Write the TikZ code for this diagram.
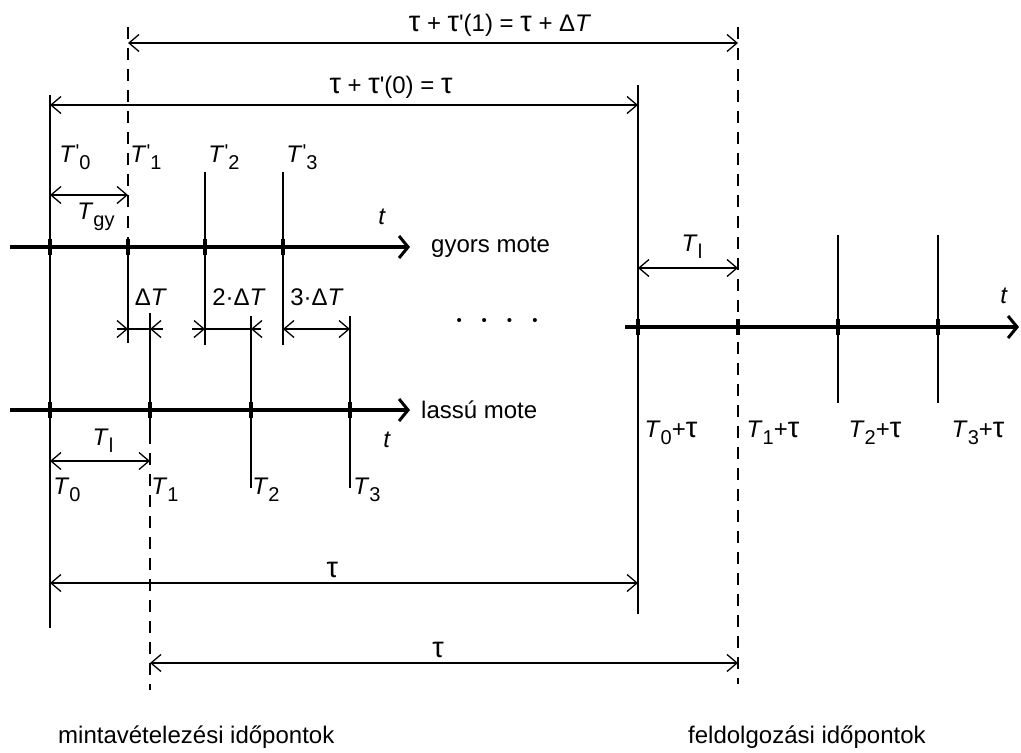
\documentclass[tikz,border=0pt]{standalone}
\usepackage{fontspec}
\setmainfont{Liberation Sans}
\usetikzlibrary{arrows.meta,positioning}
\newcommand{\Tix}[1]{\textit{T}\raisebox{-.55ex}{\fontsize{20}{20}\selectfont#1}}
\newcommand{\Tpr}[1]{\textit{T}\raisebox{.3ex}{\fontsize{20}{20}\selectfont\textquotesingle}\raisebox{-.55ex}{\fontsize{20}{20}\selectfont#1}}
\newcommand{\tp}{\textquotesingle}
\newcommand{\tu}{{\fontsize{29}{29}\selectfont τ}}

\begin{document}
\begin{tikzpicture}[x=1pt,y=-1pt,font=\fontsize{24}{28}\selectfont,
   axis/.style={line width=3.4pt,-{Straight Barb[length=9pt,width=22pt,line width=3pt]}},
   tickm/.style={line width=3.6pt},
   dim/.style={line width=1.3pt,{Straight Barb[length=10pt,width=17pt]}-{Straight Barb[length=10pt,width=17pt]}},
   tip/.style={line width=1.3pt,-{Straight Barb[length=10pt,width=17pt]}},
   vline/.style={line width=1.6pt},
   dsh/.style={line width=1.6pt,dash pattern=on 12pt off 9pt},
   lbl/.style={inner sep=1pt}]
  \useasboundingbox[fill=white] (0,0) rectangle (1021,753);
  % tick points on the three time axes
  \coordinate (g0) at (50,247);  \coordinate (g1) at (128,247);
  \coordinate (g2) at (205,247); \coordinate (g3) at (283,247);
  \coordinate (l0) at (50,410);  \coordinate (l1) at (150,410);
  \coordinate (l2) at (251,410); \coordinate (l3) at (350,410);
  \coordinate (f0) at (638,327); \coordinate (f1) at (738,327);
  \coordinate (f2) at (838,327); \coordinate (f3) at (938,327);
  % axes
  \draw[axis] (10,247) coordinate (gs) -- (410,247) coordinate (ge);
  \draw[axis] (10,410) coordinate (ls) -- (410,410) coordinate (le);
  \draw[axis] (625,327) coordinate (fs) -- (1019,327) coordinate (fe);
  \foreach \p in {g0,g1,g2,g3,l0,l1,l2,l3,f0,f1,f2,f3}
    \draw[tickm] ([yshift=8pt]\p) -- ([yshift=-8pt]\p);
  % vertical markers
  \draw[vline] (g0 |- 0,95) -- (g0 |- 0,628);
  \draw[dsh] (g1 |- 0,27) -- (g1);
  \draw[vline] (g1) -- (g1 |- 0,343);
  \draw[vline] (g2 |- 0,172) -- (g2 |- 0,345);
  \draw[vline] (g3 |- 0,172) -- (g3 |- 0,345);
  \draw[vline] (l1 |- 0,313) -- (l1 |- 0,432);
  \draw[dsh] (l1 |- 0,432) -- (l1 |- 0,690);
  \draw[vline] (l2 |- 0,316) -- (l2 |- 0,488);
  \draw[vline] (l3 |- 0,316) -- (l3 |- 0,488);
  \draw[vline] (f0 |- 0,85) -- (f0 |- 0,614);
  \draw[dsh] (f1 |- 0,27) -- (f1 |- 0,684);
  \draw[vline] (f2 |- 0,235) -- (f2 |- 0,403);
  \draw[vline] (f3 |- 0,235) -- (f3 |- 0,403);
  % dimensions
  \draw[dim] (g1 |- 0,43) -- node[lbl,pos=0.61,above=5pt] (top) {\tu\ + \tu\tp(1) = \tu\ + Δ\textit{T}} (f1 |- 0,43);
  \draw[dim] (g0 |- 0,105) -- node[lbl,pos=0.58,above=5pt] (mid) {\tu\ + \tu\tp(0) = \tu} (f0 |- 0,105);
  \draw[dim] (g0 |- 0,195) -- (g1 |- 0,195);
  \draw[dim] (l0 |- 0,461) -- (l1 |- 0,461);
  \draw[dim] (f0 |- 0,268) -- (f1 |- 0,268);
  \draw[dim] (g0 |- 0,583) -- node[lbl,pos=0.48,above=4pt] (tau1) {\tu} (f0 |- 0,583);
  \draw[dim] (l1 |- 0,663) -- node[lbl,pos=0.49,above=4pt] (tau2) {\tu} (f1 |- 0,663);
  \coordinate (a1) at (g1 |- 0,329); \coordinate (b1) at (l1 |- 0,329);
  \coordinate (a2) at (g2 |- 0,329); \coordinate (b2) at (l2 |- 0,329);
  \coordinate (a3) at (g3 |- 0,329); \coordinate (b3) at (l3 |- 0,329);
  \draw[tip] ([xshift=-11pt]a1) -- (a1); \draw[line width=1.3pt] (a1) -- (b1);
  \draw[tip] ([xshift=13pt]b1) -- (b1);
  \draw[tip] ([xshift=-13pt]a2) -- (a2); \draw[line width=1.3pt] (a2) -- (b2);
  \draw[tip] ([xshift=10pt]b2) -- (b2);
  \draw[dim] (a3) -- (b3);
  % labels
  \node[lbl] (tgy) at (96,217) {\Tix{gy}};
  \node[lbl] (tl1) at (103,441) {\Tix{l}};
  \node[lbl] (tl2) at (692,247) {\Tix{l}};
  \node[lbl] (dt1) at (151,297) {Δ\textit{T}};
  \node[lbl] (dt2) at (239,297) {2·Δ\textit{T}};
  \node[lbl] (dt3) at (317,297) {3·Δ\textit{T}};
  \node[lbl] (tp0) at (75,157) {\Tpr{0}};
  \node[lbl] (tp1) at (146,157) {\Tpr{1}};
  \node[lbl] (tp2) at (224,157) {\Tpr{2}};
  \node[lbl] (tp3) at (302,157) {\Tpr{3}};
  \node[lbl] (t0) at (67,490) {\Tix{0}};
  \node[lbl] (t1) at (165,490) {\Tix{1}};
  \node[lbl] (t2) at (266,490) {\Tix{2}};
  \node[lbl] (t3) at (367,490) {\Tix{3}};
  \node[lbl] (r0) at (671,433) {\Tix{0}+\tu};
  \node[lbl] (r1) at (773,433) {\Tix{1}+\tu};
  \node[lbl] (r2) at (875,433) {\Tix{2}+\tu};
  \node[lbl] (r3) at (978,433) {\Tix{3}+\tu};
  \node[lbl] (tg) at (382,217) {\textit{t}};
  \node[lbl] (tls) at (387,440) {\textit{t}};
  \node[lbl] (tf) at (1004,296) {\textit{t}};
  \node[lbl,anchor=west] (gyors) at (430,247) {gyors mote};
  \node[lbl,anchor=west] (lassu) at (420,410) {lassú mote};
  \node[lbl,font=\fontsize{15}{15}\selectfont] (dots) at (497,322) {•\hspace{20pt}•\hspace{20pt}•\hspace{20pt}•};
  \node[lbl,anchor=west] (minta) at (57,737) {mintavételezési időpontok};
  \node[lbl,anchor=west] (feld) at (687,737) {feldolgozási időpontok};
\end{tikzpicture}
\end{document}
